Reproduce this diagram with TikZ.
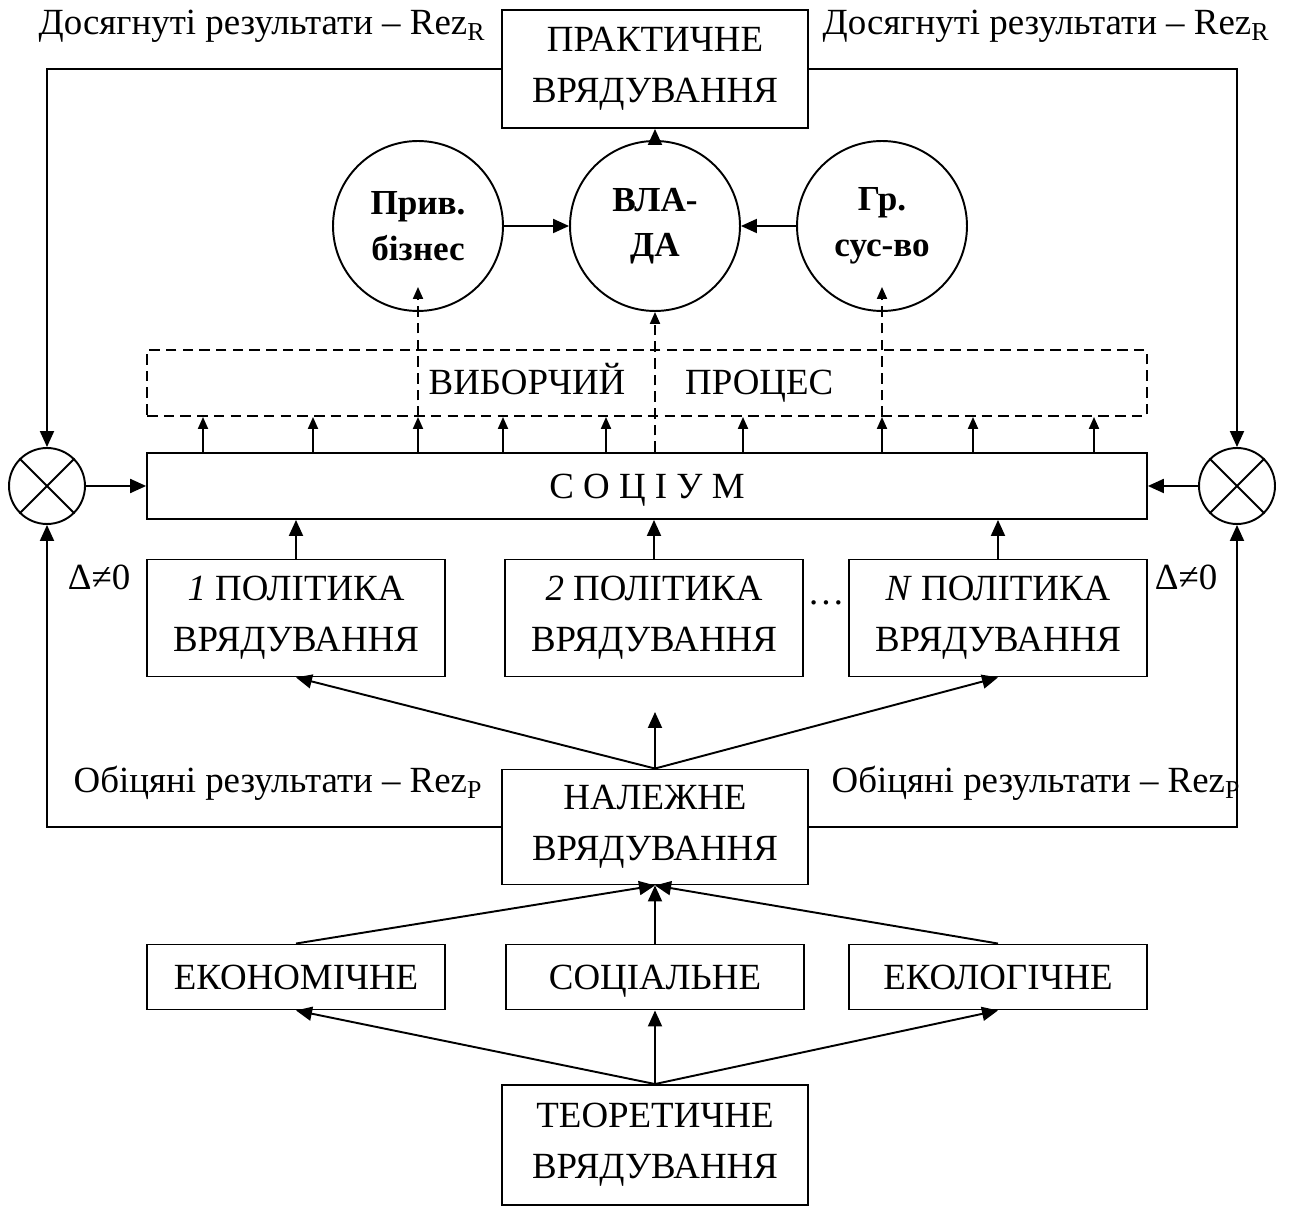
\documentclass[tikz,border=0pt]{standalone}
\usepackage{fontspec}
\setmainfont{Liberation Serif}
\usetikzlibrary{arrows.meta}

\begin{document}
\begin{tikzpicture}[x=0.02cm,y=-0.02cm,
        every node/.style={font=\fontsize{21}{29}\selectfont},
        every text node part/.style={align=center},
        bigbox/.style={draw,line width=1.1pt,inner sep=0pt,minimum width=6.12cm,minimum height=2.36cm},
        polbox/.style={draw,line width=1.1pt,inner sep=0pt,minimum width=5.96cm,minimum height=2.34cm},
        lowbox/.style={draw,line width=1.1pt,inner sep=0pt,minimum width=5.96cm,minimum height=1.3cm,
            text height=14pt,text depth=0pt},
        longbox/.style={line width=1.1pt,inner sep=0pt,minimum width=20cm,minimum height=1.32cm,
            text height=14pt,text depth=0pt},
        circ/.style={draw,circle,line width=1.1pt,inner sep=0pt,minimum size=3.4cm,
            font=\fontsize{20}{26}\selectfont\bfseries},
        cmp/.style={draw,circle,line width=1.1pt,inner sep=0pt,minimum size=1.52cm},
        arr/.style={line width=1.1pt,-{Triangle[length=3.2mm,width=2.8mm]}},
        sarr/.style={line width=1.1pt,-{Triangle[length=2.4mm,width=2mm]}},
        darr/.style={sarr,dash pattern=on 6pt off 3.5pt}]
        \useasboundingbox (0,0) rectangle (1289,1222);

        \node[bigbox] (Prakt) at (655,69) {ПРАКТИЧНЕ\\ВРЯДУВАННЯ};
        \node[anchor=base] (DosL) at (262,35) {Досягнуті результати – Rez\textsubscript{R}};
        \node[anchor=base] (DosR) at (1046,35) {Досягнуті результати – Rez\textsubscript{R}};

        \node[circ] (Biz) at (418,226) {Прив.\\бізнес};
        \node[circ] (Vlada) at (655,226) {ВЛА-\\ДА};
        \node[circ] (Hrom) at (882,226) {Гр.\\сус-во};

        \node[longbox,draw,dash pattern=on 6pt off 3.5pt] (Vybir) at (647,383) {};
        \node (VybirTxt) at (631,383) {ВИБОРЧИЙ\hspace{1.2cm}ПРОЦЕС};
        \node[longbox,draw] (Sotsium) at (647,486) {С О Ц І У М};

        \node[cmp] (CmpL) at (47,486) {};
        \node[cmp] (CmpR) at (1237,486) {};
        \node[anchor=base] (DelL) at (99,590) {Δ≠0};
        \node[anchor=base] (DelR) at (1186,590) {Δ≠0};

        \node[polbox] (Pol1) at (296,618) {\textit{1} ПОЛІТИКА\\ВРЯДУВАННЯ};
        \node[polbox] (Pol2) at (654,618) {\textit{2} ПОЛІТИКА\\ВРЯДУВАННЯ};
        \node[polbox] (PolN) at (998,618) {\textit{N} ПОЛІТИКА\\ВРЯДУВАННЯ};
        \node[anchor=base] (Dots) at (826,605) {…};

        \node[bigbox,minimum height=2.3cm] (Nalezh) at (655,827) {НАЛЕЖНЕ\\ВРЯДУВАННЯ};
        \node[anchor=base] (ObL) at (278,793) {Обіцяні результати – Rez\textsubscript{P}};
        \node[anchor=base] (ObR) at (1036,793) {Обіцяні результати – Rez\textsubscript{P}};
        \coordinate (MidTip) at (655,712);

        \node[lowbox] (Ekon) at (296,977) {ЕКОНОМІЧНЕ};
        \node[lowbox] (Sots) at (655,977) {СОЦІАЛЬНЕ};
        \node[lowbox] (Ekol) at (998,977) {ЕКОЛОГІЧНЕ};
        \node[bigbox,minimum height=2.4cm] (Teor) at (655,1145) {ТЕОРЕТИЧНЕ\\ВРЯДУВАННЯ};

        \draw[arr] (Vlada) -- (Prakt);
        \draw[arr] (Biz) -- (Vlada);
        \draw[arr] (Hrom) -- (Vlada);

        \draw[arr] (Prakt.west) -| (CmpL.north);
        \draw[arr] (Prakt.east) -| (CmpR.north);
        \draw[arr] (Nalezh.west) -| (CmpL.south);
        \draw[arr] (Nalezh.east) -| (CmpR.south);
        \draw[arr] (CmpL) -- (Sotsium.west);
        \draw[arr] (CmpR) -- (Sotsium.east);
        \draw[line width=1.1pt] (CmpL.45) -- (CmpL.225) (CmpL.135) -- (CmpL.315)
            (CmpR.45) -- (CmpR.225) (CmpR.135) -- (CmpR.315);

        \foreach \x in {203,313,503,606,743,973,1094}
            \draw[sarr] (\x,0 |- Sotsium.north) -- (\x,0 |- Vybir.south);
        \foreach \c in {Biz,Hrom} {
            \draw[sarr] (\c.south |- Sotsium.north) -- (\c.south |- Vybir.south);
            \draw[darr] (\c.south |- Vybir.south) -- ([yshift=0.5cm]\c.south);
        }
        \draw[darr] (Vlada.south |- Sotsium.north) -- (Vlada.south);

        \foreach \p in {Pol1,Pol2,PolN}
            \draw[arr] (\p.north) -- (\p.north |- Sotsium.south);
        \draw[arr] (Nalezh.north) -- (Pol1.south);
        \draw[arr] (Nalezh.north) -- (MidTip);
        \draw[arr] (Nalezh.north) -- (PolN.south);

        \foreach \b in {Ekon,Sots,Ekol} {
            \draw[arr] (Teor.north) -- (\b.south);
            \draw[arr] (\b.north) -- (Nalezh.south);
        }
    \end{tikzpicture}
\end{document}
